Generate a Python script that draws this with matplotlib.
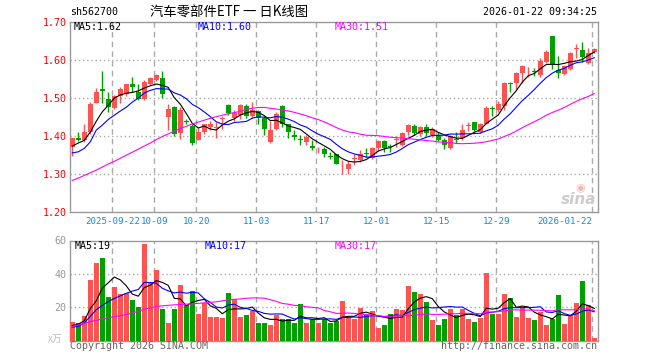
import matplotlib
matplotlib.use("Agg")
import matplotlib.pyplot as plt
import numpy as np
import pandas as pd

# daily bars, 2025-09-11 .. 2026-01-22 (88 trading days)
opens = [1.371, 1.393, 1.388, 1.410, 1.487, 1.522, 1.497, 1.474, 1.505, 1.510,
         1.536, 1.515, 1.497, 1.535, 1.546, 1.552, 1.450, 1.475, 1.408, 1.440,
         1.426, 1.390, 1.410, 1.422, 1.420, 1.443, 1.480, 1.448, 1.454, 1.478,
         1.452, 1.465, 1.448, 1.384, 1.417, 1.478, 1.430, 1.402, 1.392, 1.384,
         1.374, 1.359, 1.366, 1.347, 1.352, 1.315, 1.314, 1.339, 1.336, 1.354,
         1.343, 1.369, 1.386, 1.373, 1.389, 1.375, 1.410, 1.425, 1.404, 1.424,
         1.402, 1.403, 1.388, 1.369, 1.391, 1.393, 1.427, 1.435, 1.410, 1.432,
         1.473, 1.469, 1.478, 1.539, 1.538, 1.564, 1.567, 1.569, 1.560, 1.595,
         1.662, 1.573, 1.562, 1.575, 1.629, 1.625, 1.590, 1.621]
closes = [1.395, 1.390, 1.410, 1.483, 1.514, 1.518, 1.476, 1.504, 1.524, 1.536,
          1.529, 1.497, 1.541, 1.553, 1.560, 1.511, 1.470, 1.406, 1.468, 1.437,
          1.382, 1.410, 1.430, 1.430, 1.424, 1.448, 1.460, 1.460, 1.480, 1.453,
          1.467, 1.448, 1.417, 1.415, 1.457, 1.431, 1.409, 1.397, 1.390, 1.397,
          1.368, 1.361, 1.352, 1.344, 1.327, 1.316, 1.327, 1.341, 1.353, 1.351,
          1.369, 1.386, 1.369, 1.371, 1.391, 1.408, 1.428, 1.408, 1.422, 1.408,
          1.419, 1.388, 1.375, 1.399, 1.389, 1.415, 1.428, 1.415, 1.432, 1.472,
          1.471, 1.483, 1.538, 1.536, 1.564, 1.583, 1.568, 1.567, 1.597, 1.621,
          1.586, 1.564, 1.583, 1.618, 1.630, 1.606, 1.617, 1.628]
highs = [1.395, 1.410, 1.430, 1.490, 1.525, 1.570, 1.516, 1.507, 1.527, 1.536,
         1.555, 1.536, 1.546, 1.555, 1.562, 1.570, 1.483, 1.478, 1.475, 1.445,
         1.432, 1.423, 1.432, 1.439, 1.437, 1.452, 1.483, 1.467, 1.483, 1.483,
         1.489, 1.467, 1.452, 1.439, 1.463, 1.481, 1.432, 1.415, 1.403, 1.403,
         1.390, 1.371, 1.371, 1.358, 1.353, 1.336, 1.334, 1.353, 1.362, 1.369,
         1.371, 1.390, 1.389, 1.378, 1.399, 1.410, 1.431, 1.430, 1.425, 1.432,
         1.424, 1.410, 1.393, 1.403, 1.410, 1.430, 1.437, 1.437, 1.434, 1.478,
         1.478, 1.492, 1.542, 1.542, 1.568, 1.586, 1.580, 1.577, 1.603, 1.625,
         1.662, 1.610, 1.586, 1.621, 1.641, 1.645, 1.630, 1.630]
lows = [1.347, 1.386, 1.385, 1.405, 1.485, 1.487, 1.463, 1.470, 1.485, 1.505,
        1.516, 1.494, 1.494, 1.533, 1.544, 1.500, 1.415, 1.399, 1.391, 1.430,
        1.375, 1.388, 1.406, 1.415, 1.393, 1.417, 1.454, 1.439, 1.443, 1.448,
        1.448, 1.431, 1.402, 1.382, 1.415, 1.424, 1.393, 1.389, 1.375, 1.375,
        1.364, 1.355, 1.345, 1.338, 1.325, 1.301, 1.301, 1.323, 1.332, 1.345,
        1.340, 1.360, 1.358, 1.357, 1.371, 1.373, 1.402, 1.402, 1.399, 1.399,
        1.397, 1.386, 1.366, 1.366, 1.382, 1.389, 1.413, 1.412, 1.408, 1.431,
        1.452, 1.463, 1.469, 1.516, 1.520, 1.538, 1.555, 1.557, 1.555, 1.590,
        1.575, 1.551, 1.560, 1.573, 1.603, 1.595, 1.588, 1.617]
# volume, x 10k
volumes = [11.1, 10.3, 14.7, 36.6, 46.3, 49.3, 26.3, 31.9, 28.1, 28.5,
           24.4, 20.0, 57.8, 35.2, 42.2, 19.2, 10.7, 19.2, 33.5, 21.5,
           29.8, 16.0, 22.7, 14.0, 14.0, 13.5, 28.5, 24.7, 14.0, 15.3,
           17.8, 10.3, 10.7, 9.3, 15.4, 12.7, 12.7, 10.3, 22.0, 10.3,
           12.7, 10.7, 12.7, 10.7, 12.0, 23.8, 13.3, 12.7, 19.8, 15.6,
           17.7, 7.6, 9.3, 15.9, 18.9, 18.3, 32.8, 29.3, 27.9, 23.2,
           12.3, 9.3, 13.0, 18.9, 15.2, 18.9, 13.0, 11.1, 13.5, 40.6,
           15.9, 15.9, 27.9, 25.6, 14.4, 19.4, 13.4, 12.2, 17.2, 9.2,
           12.8, 27.3, 9.8, 15.2, 22.4, 35.6, 21.6, 1.4]

# moving-average values at the left edge (window reaches back before the first bar)
ma5_head = [1.373, 1.381, 1.388, 1.410]
ma10_head = [1.355, 1.358, 1.367, 1.384, 1.415, 1.428, 1.443, 1.454, 1.465]
ma30_head = [1.283, 1.289, 1.296, 1.303, 1.310, 1.318, 1.326, 1.333, 1.341, 1.349,
             1.357, 1.365, 1.373, 1.381, 1.390, 1.398, 1.405, 1.412, 1.419, 1.425,
             1.431, 1.436, 1.441, 1.446, 1.450, 1.454, 1.458, 1.461, 1.464]
vma5_head = [9.0, 9.8, 11.8, 19.2]
vma10_head = [8.0, 8.5, 10.5, 14.5, 18.5, 21.0, 23.5, 25.2, 26.8]
vma30_head = [8.4, 9.3, 10.2, 11.3, 12.1, 12.9, 13.7, 14.3, 14.9, 15.6,
              16.5, 17.6, 18.8, 19.6, 20.4, 20.8, 21.1, 21.4, 21.6, 21.8,
              22.0, 22.3, 22.6, 22.9, 23.2, 23.8, 24.4, 24.7, 24.9]

tick_idx = [7, 14, 21, 31, 41, 51, 61, 71, 87]
tick_labels = ["2025-09-22", "10-09", "10-20", "11-03", "11-17",
               "12-01", "12-15", "12-29", "2026-01-22"]

UP = "#ff5252"
DOWN = "#00a000"
GRID = "#aaaaaa"
MONO = "DejaVu Sans Mono"
CJK = ["Noto Sans CJK SC", "DejaVu Sans"]
FS = 7.2


def moving(values, n, head):
    s = pd.Series(values).rolling(n).mean().to_numpy()
    s[:n - 1] = head
    return s


o = np.array(opens)
c = np.array(closes)
x = np.arange(len(c))
up = c >= o
colors = np.where(up, UP, DOWN)

W, H = 660, 360
fig = plt.figure(figsize=(6.6, 3.6), dpi=100)
ax = fig.add_axes([70 / W, (H - 212) / H, 528 / W, 190.5 / H])
axv = fig.add_axes([70 / W, (H - 340.5) / H, 528 / W, 100 / H])

# candles
ax.vlines(x, lows, highs, colors=colors, lw=1.0, zorder=2)
body = np.maximum(np.abs(c - o), 0.0016)
ax.bar(x, body, bottom=np.minimum(o, c), width=0.8, color=colors, zorder=3)
ax.plot(x, moving(closes, 5, ma5_head), color="black", lw=0.8, zorder=4)
ax.plot(x, moving(closes, 10, ma10_head), color="#0000ff", lw=0.8, zorder=4)
ax.plot(x, moving(closes, 30, ma30_head), color="#ff00ff", lw=0.8, zorder=4)

# volume
axv.bar(x, volumes, width=0.8, color=colors, zorder=3)
vma5 = moving(volumes, 5, vma5_head)
vma10 = moving(volumes, 10, vma10_head)
vma30 = moving(volumes, 30, vma30_head)
axv.plot(x, vma5, color="black", lw=0.8, zorder=4)
axv.plot(x, vma10, color="#0000ff", lw=0.8, zorder=4)
axv.plot(x, vma30, color="#ff00ff", lw=0.8, zorder=4)

for a in (ax, axv):
    a.set_xlim(-0.383, 87.62)
    for s in a.spines.values():
        s.set_color("#999999")
        s.set_linewidth(1.0)
    for t in tick_idx:
        a.axvline(t - 0.33, color=GRID, lw=1.0, ls=(0, (4, 3)), zorder=1)
    a.set_xticks([])
    a.tick_params(length=0)

ax.set_ylim(1.20, 1.70)
ax.set_yticks([1.20, 1.30, 1.40, 1.50, 1.60, 1.70])
ax.set_yticklabels([f"{v:.2f}" for v in ax.get_yticks()], color="red",
                   family=MONO, fontsize=FS)
ax.tick_params(axis="y", pad=2.5)
for v in (1.30, 1.40, 1.50, 1.60):
    ax.axhline(v, color=GRID, lw=1.0, ls=(0, (1, 2)), zorder=1)

axv.set_ylim(0, 60)
axv.set_yticks([20, 40, 60])
axv.set_yticklabels(["20", "40", "60"], color="#999999", family=MONO, fontsize=FS)
axv.tick_params(axis="y", pad=2.5)
for v in (20, 40):
    axv.axhline(v, color=GRID, lw=1.0, ls=(0, (1, 2)), zorder=1)

# date labels under the price panel
for t, lab in zip(tick_idx, tick_labels):
    ha = "right" if lab == tick_labels[-1] else "center"
    ax.annotate(lab, xy=(t - 0.33, 0), xycoords=("data", "axes fraction"),
                xytext=(0, -10), textcoords="offset pixels", ha=ha, va="center",
                color="#1a88d8", family=MONO, fontsize=6.6)


def ftext(px, py, s, **kw):
    kw.setdefault("family", MONO)
    kw.setdefault("fontsize", FS)
    fig.text(px / W, 1 - py / H, s, va="center", **kw)


ftext(70, 12, "sh562700")
ftext(150, 12, "汽车零部件ETF 一 日K线图", family=CJK, fontsize=9.6)
ftext(597, 12, "2026-01-22 09:34:25", ha="right")

ftext(74, 27, f"MA5:{c[-5:].mean():.2f}", color="black")
ftext(198, 27, f"MA10:{c[-10:].mean():.2f}", color="#0000ff")
ftext(335, 27, f"MA30:{c[-30:].mean():.2f}", color="#ff00ff")

# volume averages are shown truncated to whole units
ftext(75, 246, f"MA5:{int(vma5[-1])}", color="black")
ftext(205, 246, f"MA10:{int(vma10[-1])}", color="#0000ff")
ftext(335, 246, f"MA30:{int(vma30[-1])}", color="#ff00ff")

ftext(48, 339, "x万", family=CJK, fontsize=7, color="#bbbbbb", style="italic")
ftext(70, 346, "Copyright 2026 SINA.COM", color="#666666")
ftext(597, 346, "http://finance.sina.com.cn", color="#666666", ha="right")

# sina watermark
ftext(596, 199, "sina", ha="right", color="#cccccc", family="DejaVu Sans",
      fontsize=11, weight="bold", style="italic")
ftext(580, 188, "◉", ha="center", color="#f2b8b8", family="DejaVu Sans", fontsize=8)

fig.savefig("out.png", dpi=100)
